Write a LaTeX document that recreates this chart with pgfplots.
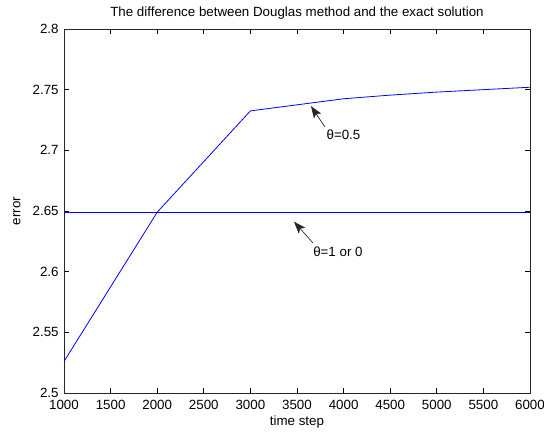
\documentclass[border=0pt]{standalone}
\usepackage{fontspec}
\setmainfont{Liberation Sans}
\usepackage{pgfplots}
\pgfplotsset{compat=1.18}
\usetikzlibrary{arrows.meta}
\begin{document}
\fontsize{10}{12}\selectfont
\begin{tikzpicture}
\begin{axis}[
  at={(0,0)}, anchor=south west,
  scale only axis, width=349.5pt, height=273pt,
  xmin=1000, xmax=6000, ymin=2.5, ymax=2.8,
  xtick={1000,1500,2000,2500,3000,3500,4000,4500,5000,5500,6000},
  xticklabels={1000,1500,2000,2500,3000,3500,4000,4500,5000,5500,6000},
  ytick={2.5,2.55,2.6,2.65,2.7,2.75,2.8},
  yticklabels={2.5,2.55,2.6,2.65,2.7,2.75,2.8},
  tick align=inside, major tick length=3.5pt,
  tick style={black, line width=0.5pt},
  axis line style={line width=0.6pt, black!85},
  tick label style={font=\fontsize{10}{12}\selectfont},
  xticklabel style={yshift=-1.5pt},
  yticklabel style={xshift=-0.5pt},
  /pgf/number format/assume math mode=true,
  xlabel={time step},
  xlabel style={at={(axis description cs:0.5,-0.08)}, anchor=center, font=\fontsize{10}{12}\selectfont},
  ylabel={error},
  ylabel style={at={(axis description cs:-0.101,0.5)}, anchor=center, font=\fontsize{10}{12}\selectfont},
]
\addplot[blue, line width=0.6pt] coordinates {
  (1000,2.526) (2000,2.649) (3000,2.7325) (3500,2.7375) (4000,2.7425)
  (4500,2.7455) (5000,2.748) (5500,2.750) (6000,2.752)
};
\addplot[blue, line width=0.6pt] coordinates {
  (1000,2.649) (2000,2.649) (3000,2.649) (4000,2.649) (5000,2.649) (6000,2.649)
};
\draw[black!85, line width=0.5pt, -{Stealth[length=9pt,width=6.5pt,inset=2pt]}]
  (axis cs:3800,2.7192) -- (axis cs:3650,2.7365);
\node[anchor=west, inner sep=0pt, font=\fontsize{10}{12}\selectfont] at (axis cs:3815,2.7126) {θ=0.5};
\draw[black!85, line width=0.5pt, -{Stealth[length=9pt,width=6.5pt,inset=2pt]}]
  (axis cs:3672,2.6236) -- (axis cs:3468,2.6412);
\node[anchor=west, inner sep=0pt, font=\fontsize{10}{12}\selectfont] at (axis cs:3672,2.6162) {θ=1 or 0};
\end{axis}
\node[anchor=center, inner sep=0pt, font=\fontsize{10}{12}\selectfont] at (174.75pt,285pt) {The difference between Douglas method and the exact solution};
\pgfresetboundingbox
\path[use as bounding box] (-48pt,-31.5pt) rectangle (360pt,294.75pt);
\end{tikzpicture}
\end{document}
